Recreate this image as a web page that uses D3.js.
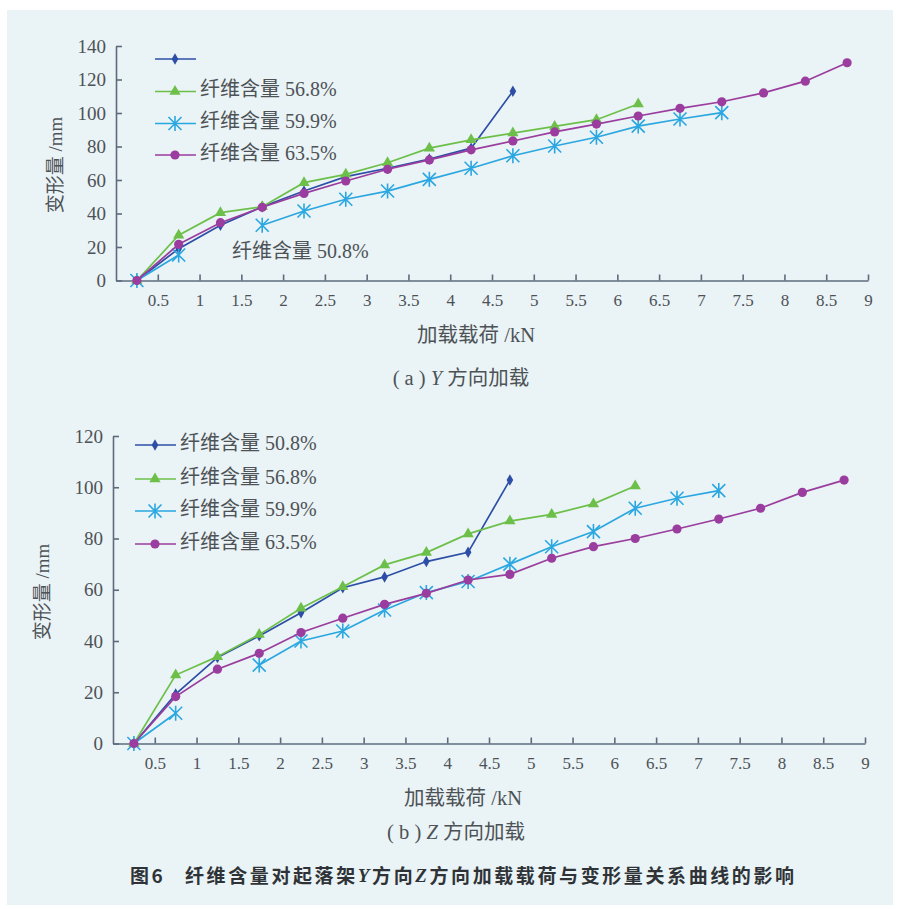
<!DOCTYPE html>
<html>
<head>
<meta charset="utf-8">
<script src="https://cdn.jsdelivr.net/npm/d3@7"></script>
<style>
  body { margin: 0; background: #ffffff; }
  svg text { fill: #4d5257; }
</style>
</head>
<body>
<div id="chart"></div>
<script>
// load steps (kN)
const loads = [0.25, 0.75, 1.25, 1.75, 2.25, 2.75, 3.25, 3.75, 4.25, 4.75,
               5.25, 5.75, 6.25, 6.75, 7.25, 7.75, 8.25, 8.75];

// (a) Y direction, deformation (mm)
const yFiber508 = [0, 19, 33, 44, 53.4, 62, 67, 72.5, 79, 113];
const yFiber568 = [0, 27, 40.5, 44, 58.4, 63.4, 70.3, 79, 84, 88, 92, 96, 105.4];
const yFiber599 = [0, 15.2, null, 33, 41.5, 48.5, 53.4, 60.4, 67, 74.5, 80.3, 85.5, 92.2, 96.4, 100.2];
const yFiber635 = [0, 21.6, 34.5, 43.7, 52, 59.4, 66.4, 72, 78, 83.3, 88.7, 93.4, 98.2, 102.8, 106.7, 112, 119, 130];

// (b) Z direction, deformation (mm)
const zFiber508 = [0, 19.3, 33.6, 42, 51, 60.8, 65, 71, 74.6, 102.8];
const zFiber568 = [0, 26.7, 33.9, 42.5, 52.8, 61.2, 69.7, 74.5, 81.8, 86.8, 89.4, 93.5, 100.5];
const zFiber599 = [0, 11.8, null, 30.6, 40, 43.9, 52.1, 58.9, 63.2, 70, 76.8, 82.7, 91.8, 95.7, 98.7];
const zFiber635 = [0, 18.3, 29, 35.2, 43.3, 48.9, 54.3, 58.6, 63.8, 66, 72.3, 76.8, 80, 83.7, 87.6, 91.8, 98, 102.8];

const seriesNames = ["纤维含量 50.8%", "纤维含量 56.8%", "纤维含量 59.9%", "纤维含量 63.5%"];
const xTicks = [0.5, 1, 1.5, 2, 2.5, 3, 3.5, 4, 4.5, 5, 5.5, 6, 6.5, 7, 7.5, 8, 8.5, 9];
const yTicksA = [0, 20, 40, 60, 80, 100, 120, 140];
const yTicksB = [0, 20, 40, 60, 80, 100, 120];

const colors = ["#2c4ea6", "#6cc04a", "#2aa7e0", "#9a3d9e"];
const markers = ["diamond", "triangle", "star", "circle"];
const axisColor = "#5d6b7c";
const serif = "'Liberation Serif', 'Times New Roman', 'Noto Sans CJK SC', serif";

const W = 898, H = 909;
const svg = d3.select("#chart").append("svg")
    .attr("width", W)
    .attr("height", H);

// scanned-paper tint
svg.append("rect")
    .attr("x", 7).attr("y", 10)
    .attr("width", 886).attr("height", 895)
    .attr("fill", "#eaf3f5");

function drawMarker(g, type, color) {
    if (type === "diamond") {
        g.append("path").attr("d", d3.symbol(d3.symbolDiamond, 38)()).attr("fill", color);
    } else if (type === "triangle") {
        g.append("path").attr("d", d3.symbol(d3.symbolTriangle, 55)()).attr("fill", color);
    } else if (type === "circle") {
        g.append("circle").attr("r", 4.6).attr("fill", color);
    } else {
        const s = 6.5;
        g.append("path")
            .attr("d", `M${-s},${-s}L${s},${s}M${-s},${s}L${s},${-s}M0,${-s - 1}L0,${s + 1}`)
            .attr("stroke", color).attr("stroke-width", 1.6).attr("fill", "none");
    }
}

function drawPanel(cfg) {
    const x = d3.scaleLinear().domain([0, 9]).range([cfg.x0, cfg.x1]);
    const y = d3.scaleLinear().domain([0, cfg.yMax]).range([cfg.y0, cfg.y1]);
    const g = svg.append("g");

    // x axis
    const xAxis = g.append("g")
        .attr("transform", `translate(0,${cfg.y0})`)
        .call(d3.axisBottom(x).tickValues(xTicks).tickFormat(d => String(d))
            .tickSizeInner(-6).tickSizeOuter(0).tickPadding(10));
    xAxis.selectAll("path, line").attr("stroke", axisColor).attr("stroke-width", 1.6);
    xAxis.selectAll("text").style("font-family", serif).style("font-size", "17px")
        .attr("dy", "0.9em");

    // y axis
    const yAxis = g.append("g")
        .attr("transform", `translate(${cfg.x0},0)`)
        .call(d3.axisLeft(y).tickValues(cfg.yTicks)
            .tickSizeInner(-6).tickSizeOuter(0).tickPadding(10));
    yAxis.selectAll("path, line").attr("stroke", axisColor).attr("stroke-width", 1.6);
    yAxis.selectAll("text").style("font-family", serif).style("font-size", "19px");

    // axis titles
    g.append("text")
        .attr("x", cfg.xTitleX).attr("y", cfg.xTitleY)
        .attr("text-anchor", "middle").attr("dominant-baseline", "middle")
        .style("font-family", serif).style("font-size", "20.5px")
        .text("加载载荷 /kN");
    g.append("text")
        .attr("transform", `translate(${cfg.yTitleX},${cfg.yTitleY}) rotate(-90)`)
        .attr("text-anchor", "middle").attr("dominant-baseline", "middle")
        .style("font-family", serif).style("font-size", "19px")
        .text("变形量 /mm");

    // sub caption
    const sub = g.append("text")
        .attr("x", cfg.subX).attr("y", cfg.subY)
        .attr("text-anchor", "middle").attr("dominant-baseline", "middle")
        .style("font-family", serif).style("font-size", "20.5px");
    sub.append("tspan").text(cfg.subTag);
    sub.append("tspan").style("font-style", "italic").text(cfg.subAxis);
    sub.append("tspan").text(" 方向加载");

    const line = d3.line()
        .defined(d => d.v !== null)
        .x(d => x(d.load))
        .y(d => y(d.v));

    cfg.series.forEach((vals, i) => {
        const pts = vals.map((v, k) => ({load: loads[k], v: v}));
        g.append("path")
            .datum(pts)
            .attr("d", line)
            .attr("fill", "none")
            .attr("stroke", colors[i])
            .attr("stroke-width", 1.7);
        pts.filter(d => d.v !== null).forEach(d => {
            const m = g.append("g").attr("transform", `translate(${x(d.load)},${y(d.v)})`);
            drawMarker(m, markers[i], colors[i]);
        });
    });

    // legend
    const lg = g.append("g");
    cfg.legendRows.forEach((ry, i) => {
        lg.append("line")
            .attr("x1", cfg.legX).attr("x2", cfg.legX + 41)
            .attr("y1", ry).attr("y2", ry)
            .attr("stroke", colors[i]).attr("stroke-width", 1.7);
        const m = lg.append("g").attr("transform", `translate(${cfg.legX + 20},${ry})`);
        drawMarker(m, markers[i], colors[i]);
        if (cfg.legendLabels[i]) {
            lg.append("text")
                .attr("x", cfg.legX + 45).attr("y", ry)
                .attr("dominant-baseline", "middle")
                .style("font-family", serif).style("font-size", "20px")
                .text(cfg.legendLabels[i]);
        }
    });
    return {x, y, g};
}

const panelA = drawPanel({
    x0: 116, x1: 868, y0: 280.5, y1: 46, yMax: 140, yTicks: yTicksA,
    xTitleX: 476, xTitleY: 337, yTitleX: 58, yTitleY: 165, subX: 461, subY: 380,
    subTag: "( a ) ", subAxis: "Y",
    series: [yFiber508, yFiber568, yFiber599, yFiber635],
    legX: 155, legendRows: [59, 91.5, 123.5, 155],
    legendLabels: ["", seriesNames[1], seriesNames[2], seriesNames[3]]
});
// label for 50.8% placed inside plot area
panelA.g.append("text")
    .attr("x", 232).attr("y", 253)
    .attr("dominant-baseline", "middle")
    .style("font-family", serif).style("font-size", "20px")
    .text(seriesNames[0]);

const panelB = drawPanel({
    x0: 113, x1: 865, y0: 743.5, y1: 436, yMax: 120, yTicks: yTicksB,
    xTitleX: 463, xTitleY: 800, yTitleX: 45, yTitleY: 592, subX: 456, subY: 834,
    subTag: "( b ) ", subAxis: "Z",
    series: [zFiber508, zFiber568, zFiber599, zFiber635],
    legX: 135, legendRows: [445, 479, 511, 544],
    legendLabels: seriesNames
});

// figure caption
const cap = svg.append("text")
    .attr("x", 130).attr("y", 878)
    .attr("dominant-baseline", "middle")
    .style("font-family", "'Noto Sans CJK SC', sans-serif")
    .style("font-size", "19px").style("font-weight", "bold")
    .attr("letter-spacing", 2.6)
    .style("fill", "#2f3338");
cap.append("tspan").text("图6");
cap.append("tspan").attr("x", 185).text("纤维含量对起落架");
cap.append("tspan").style("font-family", serif).style("font-style", "italic").text("Y");
cap.append("tspan").text("方向");
cap.append("tspan").style("font-family", serif).style("font-style", "italic").text("Z");
cap.append("tspan").text("方向加载载荷与变形量关系曲线的影响");
</script>
</body>
</html>
